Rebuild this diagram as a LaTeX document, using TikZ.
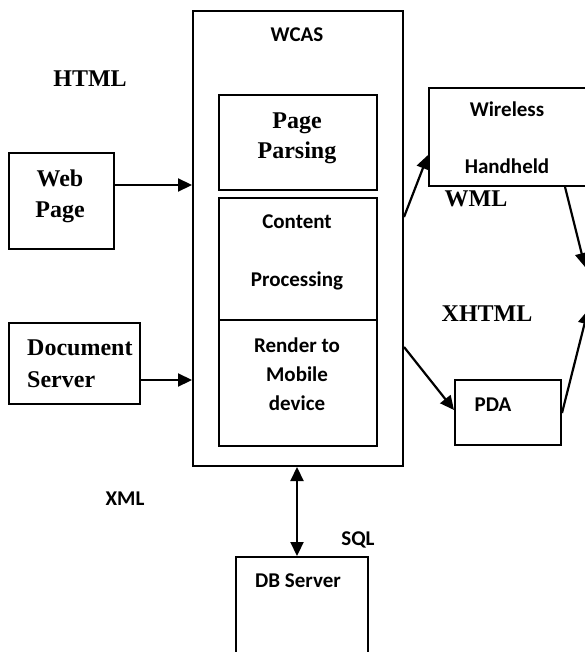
\documentclass[tikz,border=0pt]{standalone}
\usepackage{fontspec}
\setmainfont{Liberation Serif}
\newfontfamily\calfont{Carlito}
\usetikzlibrary{arrows.meta}
\tikzset{
  box/.style={draw, line width=2pt, inner sep=0pt, anchor=north west},
  tm/.style={font=\fontsize{24}{28}\selectfont\bfseries, inner sep=0pt, anchor=base},
  cb/.style={font=\calfont\fontsize{21}{25}\selectfont\bfseries, inner sep=0pt, anchor=base},
  flow/.style={line width=2.2pt, -{Triangle[length=14pt,width=13pt]}},
  both/.style={line width=2.2pt, {Triangle[length=14pt,width=13pt]}-{Triangle[length=14pt,width=13pt]}}
}
\begin{document}
\begin{tikzpicture}[x=1pt,y=-1pt]
\useasboundingbox (0,0) rectangle (585,652);
\clip (0,0) rectangle (585,652);
\fill[white] (0,0) rectangle (585,652);

% server boxes
\node[box, minimum width=210pt, minimum height=455pt] (wcas) at (192,10) {};
\node[box, minimum width=158pt, minimum height=95pt] (parse) at (218,94) {};
\node[box, minimum width=158pt, minimum height=122pt] (content) at (218,197) {};
\node[box, minimum width=158pt, minimum height=126pt] (render) at (218,319) {};

% sources
\node[box, minimum width=105pt, minimum height=96pt] (web) at (8,152) {};
\node[box, minimum width=131pt, minimum height=81pt] (doc) at (8,322) {};

% client devices
\node[box, minimum width=170pt, minimum height=98pt] (wh) at (428,87) {};
\node[box, minimum width=106pt, minimum height=65pt] (pda) at (454,379) {};

% database
\node[box, minimum width=132pt, minimum height=110pt] (db) at (235,556) {};

% texts
\node[cb] (tWcas) at (297,42) {WCAS};
\node[tm] (tHtml) at (90,87) {HTML};
\node[tm] (tPage) at (297,129) {Page};
\node[tm] (tParsing) at (297,159) {Parsing};
\node[cb] (tContent) at (297,229) {Content};
\node[cb] (tProc) at (297,286) {Processing};
\node[cb] (tRender) at (297,352) {Render to};
\node[cb] (tMobile) at (297,381) {Mobile};
\node[cb] (tDevice) at (297,410) {device};
\node[tm] (tWeb) at (60,187) {Web};
\node[tm] (tWebPage) at (60,217) {Page};
\node[tm, anchor=base west] (tDoc) at (27,355) {Document};
\node[tm, anchor=base west] (tServer) at (27,387) {Server};
\node[cb] (tXml) at (125,505) {XML};
\node[cb] (tWireless) at (507,117) {Wireless};
\node[cb] (tHandheld) at (507,174) {Handheld};
\node[tm] (tWml) at (476,207) {WML};
\node[tm] (tXhtml) at (487,321) {XHTML};
\node[cb] (tPda) at (493,411) {PDA};
\node[cb] (tSql) at (358,545) {SQL};
\node[cb] (tDb) at (298,587) {DB Server};

% free ends leaving the picture on the right
\coordinate (outA) at (585,267);
\coordinate (outB) at (588,310);

% connectors
\draw[flow] (web.east |- 0,185) -- (wcas.west |- 0,185);
\draw[flow] (doc.east |- 0,380) -- (wcas.west |- 0,380);
\draw[flow] (wcas.east |- 0,217) -- (wh.west |- 0,155);
\draw[flow] (wcas.east |- 0,347) -- (pda.west |- 0,410);
\draw[flow] (wh.south -| 565,0) -- (outA);
\draw[flow] (pda.east |- 0,413) -- (outB);
\draw[both] (wcas.south -| 297,0) -- (db.north -| 297,0);
\end{tikzpicture}
\end{document}
